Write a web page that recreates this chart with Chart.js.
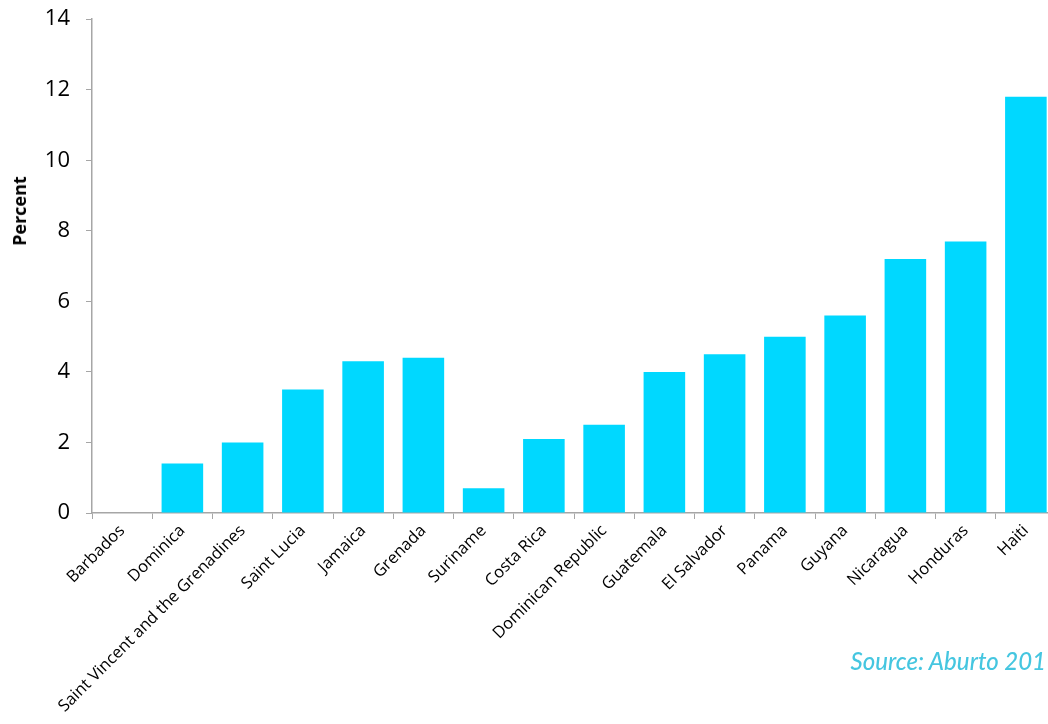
<!DOCTYPE html>
<html>
<head>
<meta charset="utf-8">
<script src="https://cdn.jsdelivr.net/npm/chart.js@4/dist/chart.umd.min.js"></script>
<style>
  html, body { margin: 0; padding: 0; background: #fff; }
  #wrap { position: relative; width: 1048px; height: 724px; overflow: hidden; }
  #chart { position: absolute; left: 0; top: -10px; }
  #yTitle {
    position: absolute; left: 19px; top: 211px;
    transform: translate(-50%, -50%) rotate(-90deg);
    font: bold 18px "Open Sans", sans-serif; color: #000; white-space: nowrap;
  }
  #source {
    position: absolute; right: 2px; top: 646px;
    font: italic 500 24px Lato, sans-serif; color: #45c6e0; white-space: nowrap;
  }
</style>
</head>
<body>
<div id="wrap">
  <canvas id="chart" width="1056" height="734"></canvas>
  <div id="yTitle">Percent</div>
  <div id="source">Source: Aburto 201</div>
</div>
<script>
const countries = [
  'Barbados', 'Dominica', 'Saint Vincent and the Grenadines', 'Saint Lucia',
  'Jamaica', 'Grenada', 'Suriname', 'Costa Rica', 'Dominican Republic',
  'Guatemala', 'El Salvador', 'Panama', 'Guyana', 'Nicaragua', 'Honduras', 'Haiti'
];
const percent = [0, 1.4, 2.0, 3.5, 4.3, 4.4, 0.7, 2.1, 2.5, 4.0, 4.5, 5.0, 5.6, 7.2, 7.7, 11.8];
const yTicks = [0, 2, 4, 6, 8, 10, 12, 14];

const axisGrey = '#a6a6a6';

// canvas is a bit larger than the frame: label overflow padding falls outside it
new Chart(document.getElementById('chart'), {
  type: 'bar',
  data: {
    labels: countries,
    datasets: [{
      data: percent,
      backgroundColor: '#00d8ff',
      borderWidth: 0,
      categoryPercentage: 1,
      barPercentage: 0.69
    }]
  },
  options: {
    responsive: false,
    animation: false,
    layout: { padding: 0 },
    plugins: { legend: { display: false }, tooltip: { enabled: false } },
    scales: {
      x: {
        grid: { display: true, drawOnChartArea: false, drawTicks: true, tickLength: 6, color: axisGrey, offset: true },
        border: { color: axisGrey, width: 1.5 },
        ticks: {
          color: '#000',
          font: { family: 'Open Sans', size: 16.5 },
          minRotation: 45, maxRotation: 45,
          autoSkip: false, padding: 2
        },
        afterFit: scale => { scale.height = 211; }
      },
      y: {
        min: 0, max: 14,
        grid: { display: true, drawOnChartArea: false, drawTicks: true, tickLength: 6, color: axisGrey },
        border: { color: axisGrey, width: 1.5 },
        afterBuildTicks: scale => { scale.ticks = yTicks.map(v => ({ value: v })); },
        ticks: {
          color: '#000',
          font: { family: 'Open Sans', size: 22 },
          padding: 16
        },
        afterFit: scale => { scale.width = 92; }
      }
    }
  }
});
</script>
</body>
</html>
